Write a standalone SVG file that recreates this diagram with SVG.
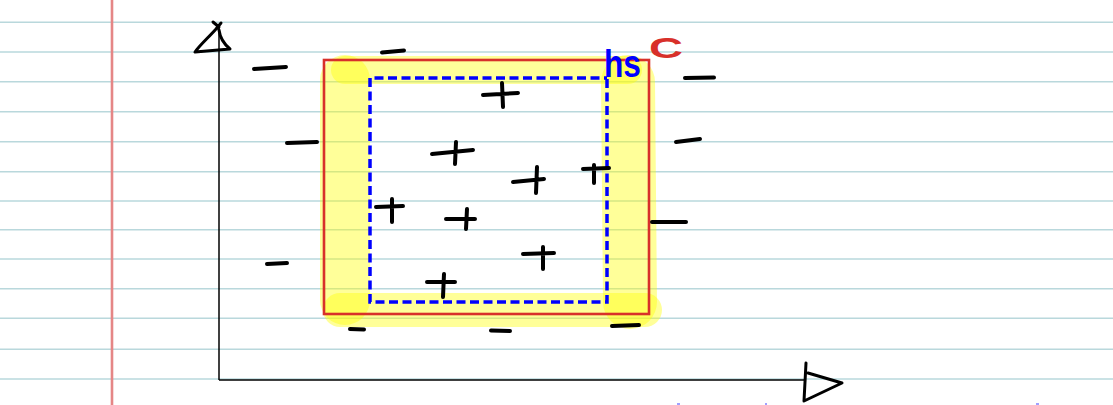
<svg xmlns="http://www.w3.org/2000/svg" width="1113" height="405" viewBox="0 0 1113 405">
<style>
.rule{stroke:#b9d8dc;stroke-width:1.6}
.hl{stroke:#ffff00;stroke-opacity:0.4;stroke-linecap:round;fill:none}
.ink{stroke:#000;stroke-width:4;stroke-linecap:round;fill:none}
.axis{stroke:#000;stroke-width:1.5;fill:none}
.head{stroke:#000;stroke-width:3;stroke-linecap:round;stroke-linejoin:round;fill:none}
</style>
<rect width="1113" height="405" fill="#ffffff"/>
<g id="paper">
<line class="rule" x1="0" y1="22.3" x2="1113" y2="22.3"/>
<line class="rule" x1="0" y1="52" x2="1113" y2="52"/>
<line class="rule" x1="0" y1="81.7" x2="1113" y2="81.7"/>
<line class="rule" x1="0" y1="111.7" x2="1113" y2="111.7"/>
<line class="rule" x1="0" y1="141.7" x2="1113" y2="141.7"/>
<line class="rule" x1="0" y1="171.7" x2="1113" y2="171.7"/>
<line class="rule" x1="0" y1="201" x2="1113" y2="201"/>
<line class="rule" x1="0" y1="229.7" x2="1113" y2="229.7"/>
<line class="rule" x1="0" y1="259" x2="1113" y2="259"/>
<line class="rule" x1="0" y1="288.7" x2="1113" y2="288.7"/>
<line class="rule" x1="0" y1="318.3" x2="1113" y2="318.3"/>
<line class="rule" x1="0" y1="349.3" x2="1113" y2="349.3"/>
<line class="rule" x1="0" y1="379" x2="1113" y2="379"/>
<line x1="112" y1="0" x2="112" y2="405" stroke="#e58686" stroke-width="2.6"/>
</g>
<g id="highlight">
<line class="hl" x1="345" y1="70" x2="628" y2="70" stroke-width="28"/>
<line class="hl" x1="345" y1="80" x2="345" y2="300" stroke-width="50"/>
<line class="hl" x1="628" y1="82" x2="630" y2="302" stroke-width="54"/>
<line class="hl" x1="340" y1="310" x2="645" y2="310" stroke-width="34"/>
</g>
<g id="axes">
<line class="axis" x1="219" y1="26" x2="219" y2="380"/>
<line class="axis" x1="219" y1="380" x2="806" y2="380"/>
<path class="head" d="M213,22 L219,27 M221,23 L216,29 C208,38 200,45 195,52 L230,49 C224,44 220,38 219,30"/>
<path class="head" d="M806,363 L804,401 L842,383 L808,373"/>
</g>
<g id="box-c">
<rect x="324" y="60" width="325" height="254" fill="none" stroke="#d8302a" stroke-width="2.6"/>
<text x="649" y="58" font-family="Liberation Sans, sans-serif" font-size="30" font-weight="bold" fill="#d8302a" textLength="34" lengthAdjust="spacingAndGlyphs">C</text>
</g>
<g id="box-hs">
<path d="M607,79 L607,302 L370,302 L370,78 L607,78" fill="none" stroke="#0000ff" stroke-width="3.5" stroke-dasharray="9 4.5"/>
<text x="604" y="77" font-family="Liberation Sans, sans-serif" font-size="38" font-weight="bold" fill="#0000ff" textLength="37" lengthAdjust="spacingAndGlyphs">hs</text>
</g>
<g id="minus">
<path class="ink" d="M254,69 L286,67"/>
<path class="ink" d="M382,52.5 L404,50.5"/>
<path class="ink" d="M685,78 L714,77.5"/>
<path class="ink" d="M287,143 L317,142"/>
<path class="ink" d="M676,142 L700,139"/>
<path class="ink" d="M652,222 L686,222"/>
<path class="ink" d="M267,264 L287,263"/>
<path class="ink" d="M350,329 L364,329.5"/>
<path class="ink" d="M491,330.5 L510,331"/>
<path class="ink" d="M612,326 L639,325"/>
</g>
<g id="plus">
<path class="ink" d="M483,95 L518,93 M502,83 L503,107"/>
<path class="ink" d="M432,154 L473,150 M456,142 L455,164"/>
<path class="ink" d="M513,182 L544,179 M537,167 L536,193"/>
<path class="ink" d="M583,169 L609,168 M594,165 L594,183"/>
<path class="ink" d="M376,207 L403,206 M392,199 L392,222"/>
<path class="ink" d="M446,219 L475,219 M467,209 L466,229"/>
<path class="ink" d="M523,254 L554,253 M543,247 L543,269"/>
<path class="ink" d="M427,282 L455,282 M444,274 L443,297"/>
</g>
<g id="marks" stroke="#8080ff" stroke-width="1.5">
<line x1="677" y1="404" x2="680" y2="404"/>
<line x1="766" y1="403" x2="766" y2="405"/>
<line x1="1036" y1="404" x2="1039" y2="404"/>
</g>
</svg>
